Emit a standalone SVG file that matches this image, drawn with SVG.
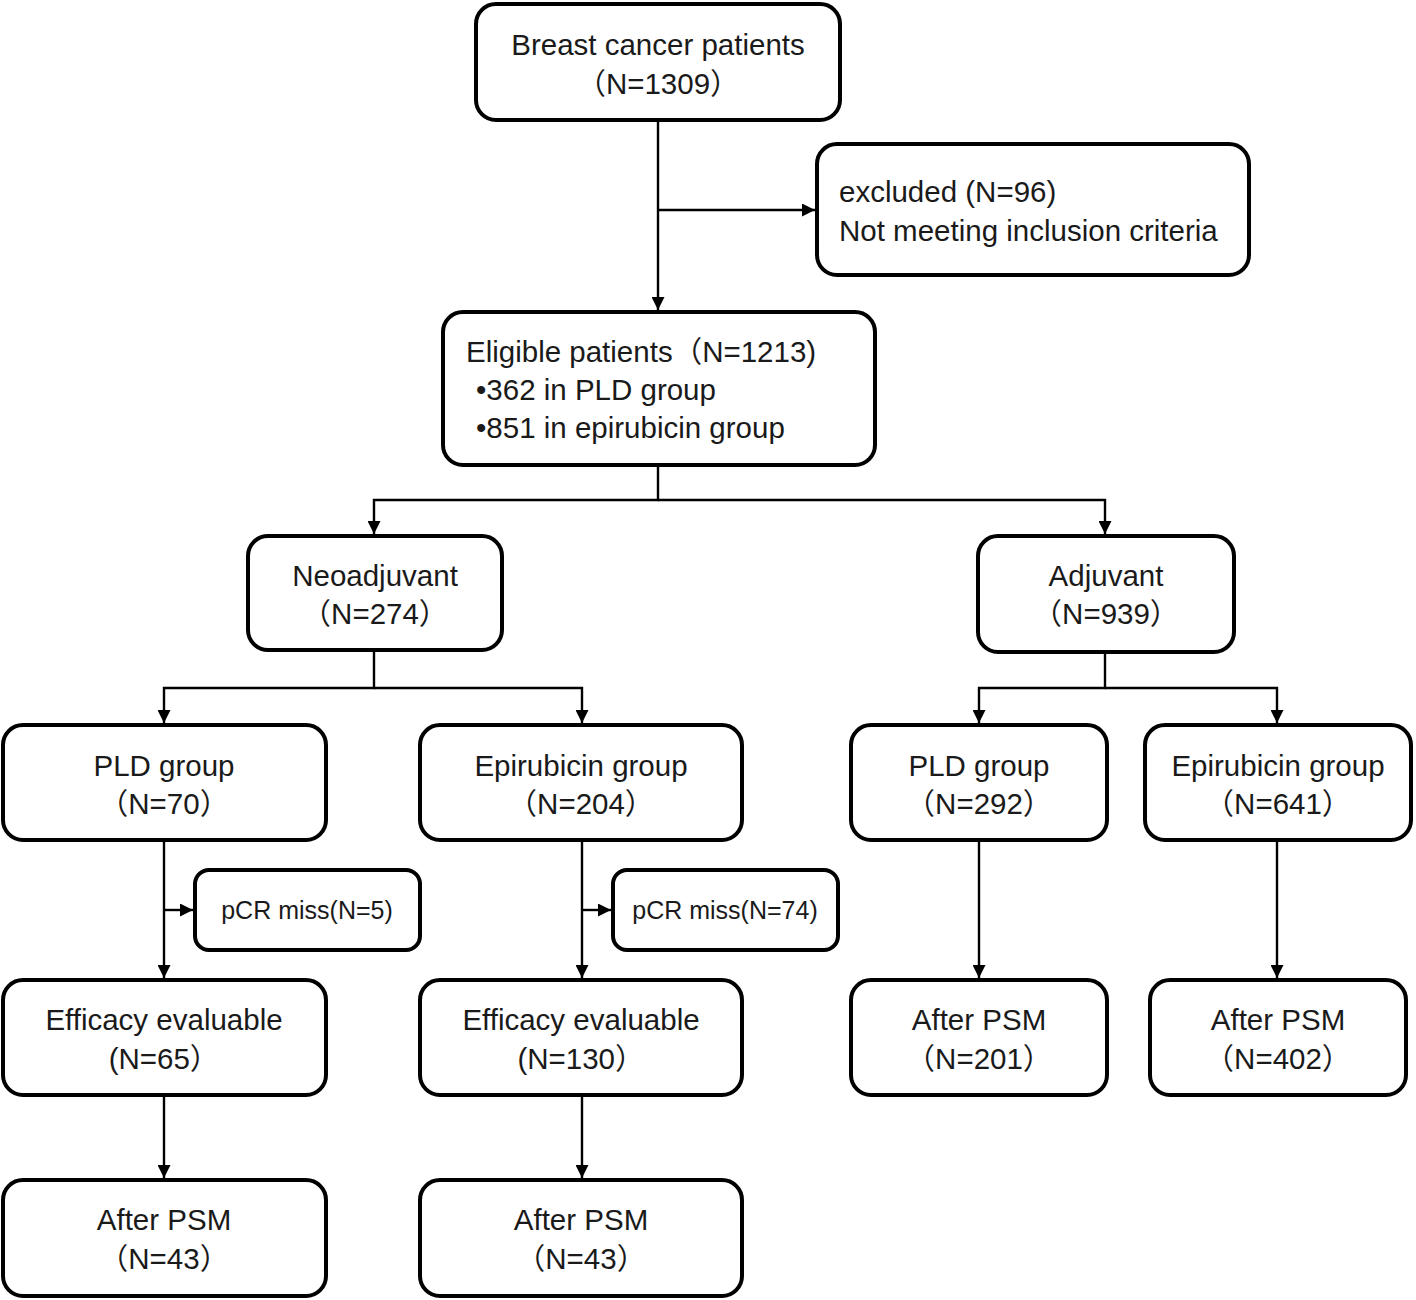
<svg xmlns="http://www.w3.org/2000/svg" width="1416" height="1300" viewBox="0 0 1416 1300">
<style>
.box{fill:#fff;stroke:#000;stroke-width:4}
.t{font-family:"Liberation Sans","Noto Sans CJK SC",sans-serif;font-size:29.5px;fill:#1a1a1a;text-anchor:middle}
.tl{text-anchor:start}
.s{font-size:25px}
.c{fill:none;stroke:#000;stroke-width:2.4}
</style>
<defs>
<marker id="ah" viewBox="0 0 10 10" refX="10" refY="5" markerWidth="13" markerHeight="13" markerUnits="userSpaceOnUse" orient="auto">
<path d="M0,0 L10,5 L0,10 z" fill="#000"/>
</marker>
</defs>
<rect width="1416" height="1300" fill="#fff"/>
<g id="connectors">
<path class="c" d="M658,120 V310" marker-end="url(#ah)"/>
<path class="c" d="M658,210 H815" marker-end="url(#ah)"/>
<path class="c" d="M658,465 V500 H374 V534" marker-end="url(#ah)"/>
<path class="c" d="M658,500 H1105 V534" marker-end="url(#ah)"/>
<path class="c" d="M374,650 V688 H164 V723" marker-end="url(#ah)"/>
<path class="c" d="M374,688 H582 V723" marker-end="url(#ah)"/>
<path class="c" d="M1105,652 V688 H979 V723" marker-end="url(#ah)"/>
<path class="c" d="M1105,688 H1277 V723" marker-end="url(#ah)"/>
<path class="c" d="M164,840 V978" marker-end="url(#ah)"/>
<path class="c" d="M164,910 H193" marker-end="url(#ah)"/>
<path class="c" d="M582,840 V978" marker-end="url(#ah)"/>
<path class="c" d="M582,910 H611" marker-end="url(#ah)"/>
<path class="c" d="M979,840 V978" marker-end="url(#ah)"/>
<path class="c" d="M1277,840 V978" marker-end="url(#ah)"/>
<path class="c" d="M164,1095 V1178" marker-end="url(#ah)"/>
<path class="c" d="M582,1095 V1178" marker-end="url(#ah)"/>
</g>
<g id="n-breast">
<rect class="box" x="476" y="4" width="364" height="116" rx="20"/>
<text class="t" x="658" y="55">Breast cancer patients</text>
<text class="t" x="658" y="94">（N=1309）</text>
</g>
<g id="n-excluded">
<rect class="box" x="817" y="144" width="432" height="131" rx="20"/>
<text class="t tl" x="839" y="202">excluded (N=96)</text>
<text class="t tl" x="839" y="241">Not meeting inclusion criteria</text>
</g>
<g id="n-eligible">
<rect class="box" x="443" y="312" width="432" height="153" rx="20"/>
<text class="t tl" x="466" y="362">Eligible patients（N=1213)</text>
<text class="t tl" x="476" y="400">•362 in PLD group</text>
<text class="t tl" x="476" y="438">•851 in epirubicin group</text>
</g>
<g id="n-neo">
<rect class="box" x="248" y="536" width="254" height="114" rx="20"/>
<text class="t" x="375" y="586">Neoadjuvant</text>
<text class="t" x="375" y="624">（N=274）</text>
</g>
<g id="n-adj">
<rect class="box" x="978" y="536" width="256" height="116" rx="20"/>
<text class="t" x="1106" y="586">Adjuvant</text>
<text class="t" x="1106" y="624">（N=939）</text>
</g>
<g id="n-pld1">
<rect class="box" x="3" y="725" width="323" height="115" rx="20"/>
<text class="t" x="164" y="776">PLD group</text>
<text class="t" x="164" y="814">（N=70）</text>
</g>
<g id="n-epi1">
<rect class="box" x="420" y="725" width="322" height="115" rx="20"/>
<text class="t" x="581" y="776">Epirubicin group</text>
<text class="t" x="581" y="814">（N=204）</text>
</g>
<g id="n-pld2">
<rect class="box" x="851" y="725" width="256" height="115" rx="20"/>
<text class="t" x="979" y="776">PLD group</text>
<text class="t" x="979" y="814">（N=292）</text>
</g>
<g id="n-epi2">
<rect class="box" x="1145" y="725" width="266" height="115" rx="20"/>
<text class="t" x="1278" y="776">Epirubicin group</text>
<text class="t" x="1278" y="814">（N=641）</text>
</g>
<g id="n-pcr1">
<rect class="box" x="195" y="870" width="225" height="80" rx="14"/>
<text class="t s" x="307" y="919">pCR miss(N=5)</text>
</g>
<g id="n-pcr2">
<rect class="box" x="613" y="870" width="225" height="80" rx="14"/>
<text class="t s" x="725" y="919">pCR miss(N=74)</text>
</g>
<g id="n-eff1">
<rect class="box" x="3" y="980" width="323" height="115" rx="20"/>
<text class="t" x="164" y="1030">Efficacy evaluable</text>
<text class="t" x="164" y="1069">(N=65）</text>
</g>
<g id="n-eff2">
<rect class="box" x="420" y="980" width="322" height="115" rx="20"/>
<text class="t" x="581" y="1030">Efficacy evaluable</text>
<text class="t" x="581" y="1069">(N=130）</text>
</g>
<g id="n-psm3">
<rect class="box" x="851" y="980" width="256" height="115" rx="20"/>
<text class="t" x="979" y="1030">After PSM</text>
<text class="t" x="979" y="1069">（N=201）</text>
</g>
<g id="n-psm4">
<rect class="box" x="1150" y="980" width="256" height="115" rx="20"/>
<text class="t" x="1278" y="1030">After PSM</text>
<text class="t" x="1278" y="1069">（N=402）</text>
</g>
<g id="n-psm1">
<rect class="box" x="3" y="1180" width="323" height="116" rx="20"/>
<text class="t" x="164" y="1230">After PSM</text>
<text class="t" x="164" y="1269">（N=43）</text>
</g>
<g id="n-psm2">
<rect class="box" x="420" y="1180" width="322" height="116" rx="20"/>
<text class="t" x="581" y="1230">After PSM</text>
<text class="t" x="581" y="1269">（N=43）</text>
</g>
</svg>
